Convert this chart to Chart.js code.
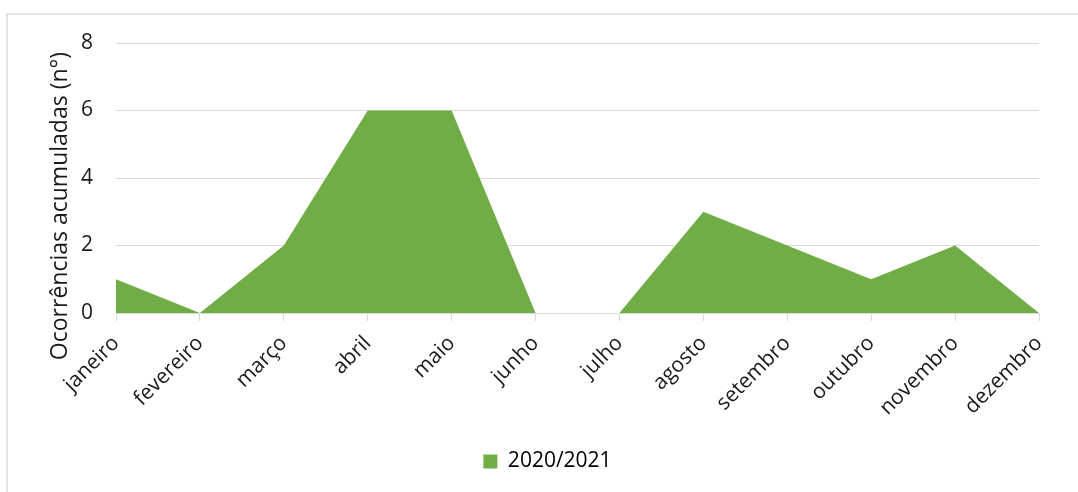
<!DOCTYPE html>
<html>
<head>
<meta charset="utf-8">
<script src="https://cdn.jsdelivr.net/npm/chart.js@4"></script>
<style>
  html, body { margin: 0; padding: 0; background: #ffffff; }
  #wrap { position: relative; width: 1078px; height: 492px; overflow: hidden; }
  #frame { position: absolute; left: 6px; top: 13px; width: 1200px; height: 600px;
           border-left: 2px solid #e4e4e4; border-top: 2px solid #e4e4e4; }
  canvas { position: absolute; left: 0; top: 0; }
</style>
</head>
<body>
<div id="wrap">
  <div id="frame"></div>
  <canvas id="chart" width="1078" height="492"></canvas>
</div>
<script>
// Occurrences per month, season 2020/2021
const months = ['janeiro', 'fevereiro', 'março', 'abril', 'maio', 'junho',
                'julho', 'agosto', 'setembro', 'outubro', 'novembro', 'dezembro'];
const occurrences = [1, 0, 2, 6, 6, 0, 0, 3, 2, 1, 2, 0];
const seriesName = '2020/2021';
const yTicks = [0, 2, 4, 6, 8];
const yTitle = 'Ocorrências acumuladas (n°)';

const green = '#70ad47';
const gridGray = '#d9d9d9';
const textColor = '#1a1a1a';
const fontFamily = '"Open Sans", sans-serif';

// Nudges the legend sideways so it sits under the centre of the plot
const legendShift = {
  id: 'legendShift',
  afterLayout(chart, args, opts) {
    const l = chart.legend;
    if (l) { l.left += opts.dx; l.right += opts.dx; }
  }
};

// Vertical axis title, drawn a little below the axis midpoint
const axisTitle = {
  id: 'axisTitle',
  afterDraw(chart, args, opts) {
    const { ctx, chartArea } = chart;
    ctx.save();
    ctx.translate(chartArea.left + opts.dx, chartArea.bottom + opts.dy);
    ctx.rotate(-Math.PI / 2);
    ctx.font = opts.font;
    ctx.fillStyle = opts.color;
    ctx.textAlign = 'center';
    ctx.textBaseline = 'alphabetic';
    ctx.fillText(opts.text, 0, 0);
    ctx.restore();
  }
};

new Chart(document.getElementById('chart'), {
  type: 'line',
  data: {
    labels: months,
    datasets: [{
      label: seriesName,
      data: occurrences,
      fill: 'origin',
      backgroundColor: green,
      borderColor: green,
      borderWidth: 0,
      pointRadius: 0,
      tension: 0
    }]
  },
  plugins: [legendShift, axisTitle],
  options: {
    responsive: false,
    animation: false,
    layout: { padding: { top: 43, left: 0, right: 39, bottom: 10 } },
    plugins: {
      tooltip: { enabled: false },
      legendShift: { dx: 28 },
      axisTitle: {
        text: yTitle,
        font: '23px "Open Sans", sans-serif',
        color: textColor,
        dx: -49,
        dy: -107
      },
      legend: {
        position: 'bottom',
        labels: {
          color: textColor,
          font: { family: fontFamily, size: 21 },
          boxWidth: 14,
          boxHeight: 14,
          padding: 10,
          generateLabels: () => [{
            text: seriesName,
            fillStyle: green,
            strokeStyle: green,
            lineWidth: 0,
            datasetIndex: 0
          }]
        }
      }
    },
    scales: {
      x: {
        offset: false,
        grid: { drawOnChartArea: false, drawTicks: true, tickLength: 8, color: gridGray },
        border: { color: gridGray, width: 1 },
        ticks: {
          color: textColor,
          font: { family: fontFamily, size: 21 },
          minRotation: 45,
          maxRotation: 45,
          padding: 10,
          autoSkip: false
        },
        afterFit: (scale) => { scale.height = 128; }
      },
      y: {
        min: 0,
        max: 8,
        afterBuildTicks: (scale) => { scale.ticks = yTicks.map(v => ({ value: v })); },
        grid: { color: gridGray, drawTicks: false },
        border: { display: false },
        ticks: {
          color: textColor,
          font: { family: fontFamily, size: 21 },
          padding: 23
        },
        afterFit: (scale) => { scale.width = 116; }
      }
    }
  }
});
</script>
</body>
</html>
